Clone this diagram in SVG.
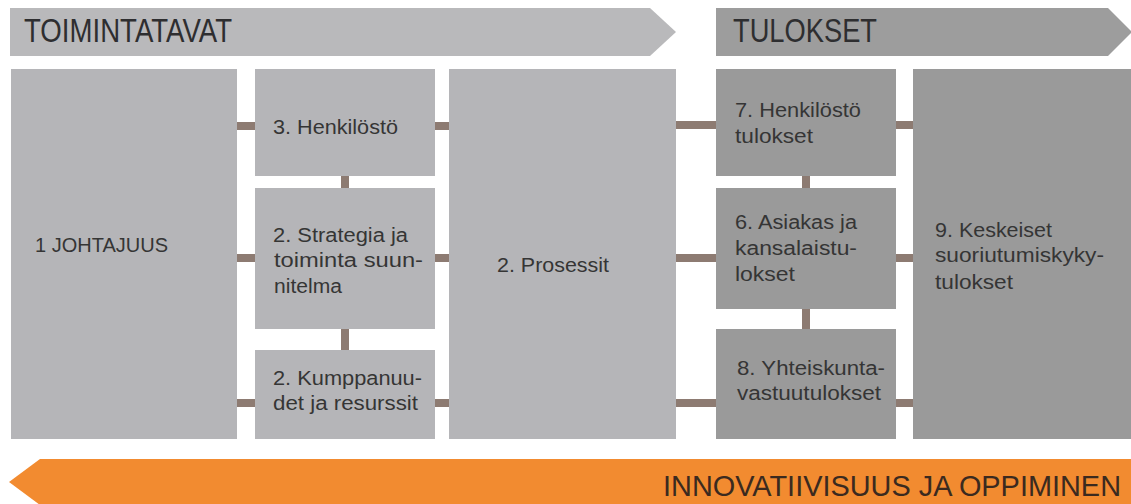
<svg xmlns="http://www.w3.org/2000/svg" width="1131" height="504" viewBox="0 0 1131 504">
<style>
.light{fill:#b5b5b8}
.dark{fill:#9a9a9a}
.t{font-family:"Liberation Sans",Arial,sans-serif;font-size:19.5px;fill:#353535}
.h{font-family:"Liberation Sans",Arial,sans-serif;font-size:33px;fill:#2e2e30}
.c{stroke:#8d7b72;stroke-width:8;fill:none}
</style>
<rect width="1131" height="504" fill="#ffffff"/>
<g id="banner-toimintatavat">
<polygon points="10,8 650,8 676,32 650,56 10,56" fill="#b9b9bb"/>
<text class="h" x="24" y="42" textLength="208" lengthAdjust="spacingAndGlyphs">TOIMINTATAVAT</text>
</g>
<g id="banner-tulokset">
<polygon points="716,8 1108,8 1132,32 1108,56 716,56" fill="#9d9d9d"/>
<text class="h" x="733" y="42" textLength="144" lengthAdjust="spacingAndGlyphs">TULOKSET</text>
</g>
<g id="connectors">
<line class="c" x1="236" y1="126" x2="256" y2="126"/>
<line class="c" x1="236" y1="258" x2="256" y2="258"/>
<line class="c" x1="236" y1="403" x2="256" y2="403"/>
<line class="c" x1="434" y1="126" x2="450" y2="126"/>
<line class="c" x1="434" y1="258" x2="450" y2="258"/>
<line class="c" x1="434" y1="403" x2="450" y2="403"/>
<line class="c" x1="675" y1="125" x2="717" y2="125"/>
<line class="c" x1="675" y1="258" x2="717" y2="258"/>
<line class="c" x1="675" y1="403" x2="717" y2="403"/>
<line class="c" x1="895" y1="125" x2="914" y2="125"/>
<line class="c" x1="895" y1="258" x2="914" y2="258"/>
<line class="c" x1="895" y1="403" x2="914" y2="403"/>
<line class="c" x1="345" y1="175" x2="345" y2="189"/>
<line class="c" x1="345" y1="328" x2="345" y2="351"/>
<line class="c" x1="806" y1="175" x2="806" y2="189"/>
<line class="c" x1="806" y1="308" x2="806" y2="330"/>
</g>
<g id="n1-johtajuus">
<rect class="light" x="11" y="69" width="226" height="370"/>
<text class="t" x="35" y="252" textLength="133" lengthAdjust="spacingAndGlyphs">1 JOHTAJUUS</text>
</g>
<g id="n3-henkilosto">
<rect class="light" x="255" y="69" width="180" height="107"/>
<text class="t" x="273" y="134" textLength="125" lengthAdjust="spacingAndGlyphs">3. Henkilöstö</text>
</g>
<g id="n2-strategia">
<rect class="light" x="255" y="188" width="180" height="141"/>
<text class="t" x="273" y="242" textLength="135" lengthAdjust="spacingAndGlyphs">2. Strategia ja</text>
<text class="t" x="274" y="267" textLength="149" lengthAdjust="spacingAndGlyphs">toiminta suun-</text>
<text class="t" x="274" y="293" textLength="68" lengthAdjust="spacingAndGlyphs">nitelma</text>
</g>
<g id="n2-kumppanuudet">
<rect class="light" x="255" y="350" width="180" height="89"/>
<text class="t" x="273" y="385" textLength="149" lengthAdjust="spacingAndGlyphs">2. Kumppanuu-</text>
<text class="t" x="273" y="410" textLength="145" lengthAdjust="spacingAndGlyphs">det ja resurssit</text>
</g>
<g id="n2-prosessit">
<rect class="light" x="449" y="69" width="227" height="370"/>
<text class="t" x="497" y="272" textLength="112" lengthAdjust="spacingAndGlyphs">2. Prosessit</text>
</g>
<g id="n7-henkilosto-tulokset">
<rect class="dark" x="716" y="69" width="180" height="107"/>
<text class="t" x="735" y="117" textLength="126" lengthAdjust="spacingAndGlyphs">7. Henkilöstö</text>
<text class="t" x="735" y="143" textLength="78" lengthAdjust="spacingAndGlyphs">tulokset</text>
</g>
<g id="n6-asiakas">
<rect class="dark" x="716" y="188" width="180" height="121"/>
<text class="t" x="735" y="229" textLength="122" lengthAdjust="spacingAndGlyphs">6. Asiakas ja</text>
<text class="t" x="735" y="255" textLength="122" lengthAdjust="spacingAndGlyphs">kansalaistu-</text>
<text class="t" x="735" y="281" textLength="60" lengthAdjust="spacingAndGlyphs">lokset</text>
</g>
<g id="n8-yhteiskunta">
<rect class="dark" x="716" y="329" width="180" height="110"/>
<text class="t" x="737" y="375" textLength="148" lengthAdjust="spacingAndGlyphs">8. Yhteiskunta-</text>
<text class="t" x="737" y="400" textLength="144" lengthAdjust="spacingAndGlyphs">vastuutulokset</text>
</g>
<g id="n9-keskeiset">
<rect class="dark" x="913" y="69" width="218" height="370"/>
<text class="t" x="935" y="237" textLength="117" lengthAdjust="spacingAndGlyphs">9. Keskeiset</text>
<text class="t" x="935" y="262" textLength="169" lengthAdjust="spacingAndGlyphs">suoriutumiskyky-</text>
<text class="t" x="935" y="289" textLength="78" lengthAdjust="spacingAndGlyphs">tulokset</text>
</g>
<g id="banner-innovatiivisuus">
<polygon points="40,459 1131,459 1131,505 40,505 9,482" fill="#f28b30"/>
<text class="h" x="663" y="496" style="font-size:29px;fill:#3b2a1f" textLength="458" lengthAdjust="spacingAndGlyphs">INNOVATIIVISUUS JA OPPIMINEN</text>
</g>
</svg>
